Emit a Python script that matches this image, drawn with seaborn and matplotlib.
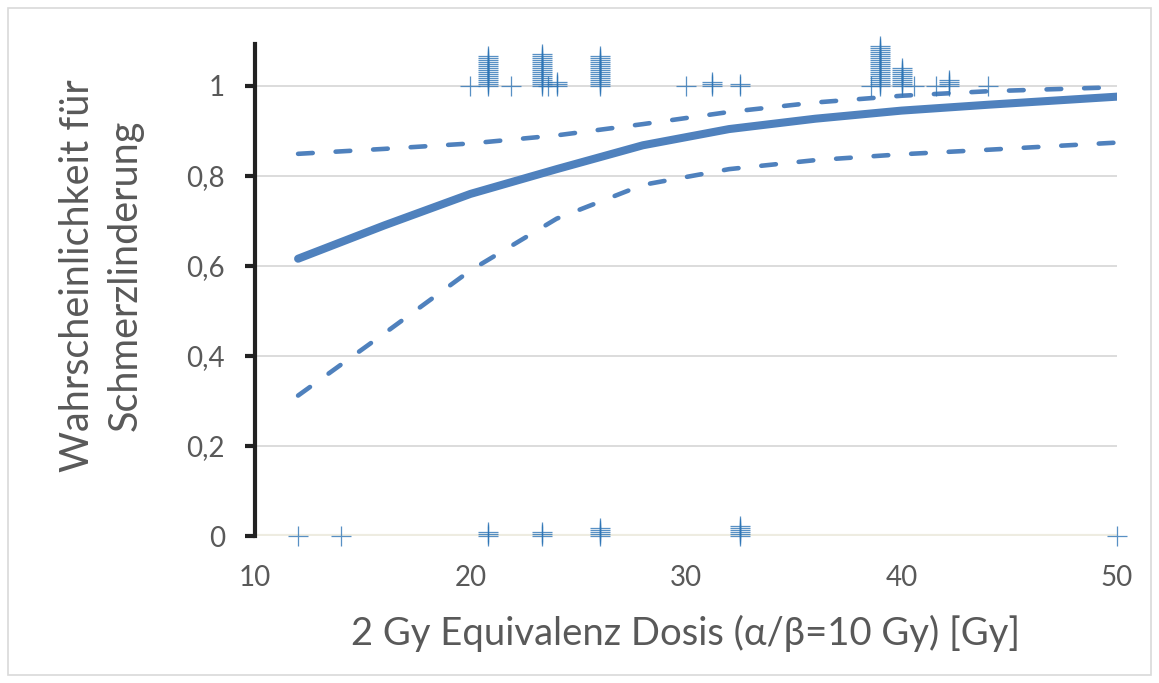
"""Dose-response plot: probability of pain relief vs. 2 Gy equivalent dose."""

import matplotlib

matplotlib.use("Agg")
import matplotlib.pyplot as plt
import numpy as np
import pandas as pd
import seaborn as sns

# fitted curve and 95% band
curve_x = [12, 16, 20, 24, 28, 32, 36, 40, 44, 50]
fit_mid = [0.616, 0.69, 0.76, 0.815, 0.868, 0.904, 0.927, 0.945, 0.958, 0.976]
fit_upper = [0.849, 0.86, 0.872, 0.89, 0.915, 0.942, 0.963, 0.978, 0.988, 0.997]
fit_lower = [0.312, 0.45, 0.59, 0.705, 0.78, 0.815, 0.835, 0.848, 0.858, 0.874]

# patients with pain relief (y=1): dose and number of patients at that dose
resp_dose = [20.0, 20.8, 21.9, 23.3, 23.6, 24.0, 26.0, 30.0, 31.2, 32.5,
             38.6, 39.0, 40.0, 40.6, 41.6, 42.2, 44.0]
resp_count = [1, 16, 1, 17, 1, 3, 16, 1, 3, 2, 1, 21, 10, 1, 1, 4, 1]

# patients without pain relief (y=0)
nonresp_dose = [12.0, 14.0, 20.8, 23.3, 26.0, 32.5, 50.0]
nonresp_count = [1, 1, 3, 3, 5, 6, 1]

ytick_vals = [0, 0.2, 0.4, 0.6, 0.8, 1.0]
ytick_labels = ["0", "0,2", "0,4", "0,6", "0,8", "1"]
xtick_vals = [10, 20, 30, 40, 50]

LINE = "#4F81BD"
MARK = "#2E75B6"
GREY = "#595959"
STACK = 0.0044  # vertical offset between overlapping points (as in the sheet)


def stacked_points(doses, counts, level):
    xs, ys = [], []
    for dose, n in zip(doses, counts):
        for k in range(n):
            xs.append(dose)
            ys.append(level + k * STACK)
    return xs, ys


sns.set_style("white")
plt.rcParams["font.family"] = ["Lato", "DejaVu Sans"]

fig = plt.figure(figsize=(11.59, 6.83), dpi=100)
ax = fig.add_axes([0.22, 0.2152, 0.7438, 0.7204])

# chart area border
fig.patches.append(plt.Rectangle((0.007, 0.012), 0.986, 0.976, transform=fig.transFigure,
                                 fill=False, edgecolor="#D9D9D9", linewidth=1.2))

for yv in ytick_vals[1:]:
    ax.axhline(yv, color="#D9D9D9", linewidth=1.3, zorder=0)
ax.axhline(0, color="#EEECE1", linewidth=3, zorder=0)

curves = pd.DataFrame({"dose": curve_x, "mid": fit_mid, "upper": fit_upper, "lower": fit_lower})
sns.lineplot(data=curves, x="dose", y="mid", color=LINE, linewidth=5.8,
             solid_capstyle="round", ax=ax, zorder=3)
for col in ["upper", "lower"]:
    sns.lineplot(data=curves, x="dose", y=col, color=LINE, linewidth=3.3,
                 linestyle=(0, (3.2, 5.0)), dash_capstyle="round", ax=ax, zorder=3)

rx, ry = stacked_points(resp_dose, resp_count, 1.0)
nx, ny = stacked_points(nonresp_dose, nonresp_count, 0.0)
pts = pd.DataFrame({"dose": rx + nx, "relief": ry + ny})
sns.scatterplot(data=pts, x="dose", y="relief", marker="+", s=225, color=MARK,
                linewidth=0.9, alpha=0.8, ax=ax, zorder=4)
for coll in ax.collections:
    coll.set_clip_on(False)

ax.set_xlim(10, 50)
ax.set_ylim(0, 1.093)
ax.set_xticks(xtick_vals)
ax.set_xticklabels([str(v) for v in xtick_vals])
ax.set_yticks(ytick_vals)
ax.set_yticklabels(ytick_labels)
ax.tick_params(axis="x", length=0, pad=21, labelsize=20, labelcolor=GREY)
ax.tick_params(axis="y", length=7.5, width=3, color="#222222", pad=14,
               labelsize=20, labelcolor=GREY, left=True)

for side in ["top", "right", "bottom"]:
    ax.spines[side].set_visible(False)
ax.spines["left"].set_color("#222222")
ax.spines["left"].set_linewidth(3)

ax.set_xlabel("2 Gy Equivalenz Dosis (\u03b1/\u03b2=10 Gy) [Gy]", fontsize=27.5, color=GREY)
ax.xaxis.set_label_coords(0.5, -0.16)
ax.set_ylabel("Wahrscheinlichkeit für\nSchmerzlinderung", fontsize=28.5, color=GREY,
              va="center", linespacing=1.35)
ax.yaxis.set_label_coords(-0.178, 0.53)

fig.savefig("out.png", dpi=100)
